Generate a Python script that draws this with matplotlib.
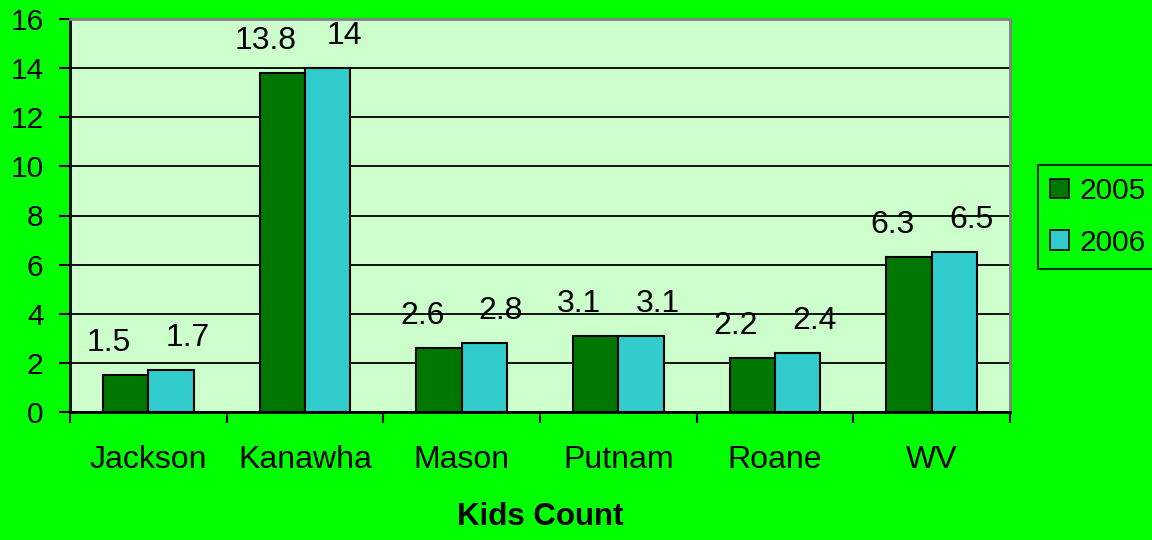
import matplotlib
matplotlib.use("Agg")
import matplotlib.pyplot as plt
import numpy as np
from matplotlib.patches import Patch

categories = ["Jackson", "Kanawha", "Mason", "Putnam", "Roane", "WV"]
series_names = ["2005", "2006"]
values_2005 = [1.5, 13.8, 2.6, 3.1, 2.2, 6.3]
values_2006 = [1.7, 14, 2.8, 3.1, 2.4, 6.5]
yticks = [0, 2, 4, 6, 8, 10, 12, 14, 16]
xlabel = "Kids Count"

plt.rcParams['font.family'] = ['Liberation Sans', 'DejaVu Sans']

c2005 = "#007800"
c2006 = "#33CCCC"
FS = 23

fig = plt.figure(figsize=(11.52, 5.4), dpi=100)
fig.patch.set_facecolor("#00FF00")
ax = fig.add_axes([70/1152, 1-412/540, 940/1152, 393/540])
ax.set_facecolor("#CCFFCC")

x = np.arange(len(categories))
w = 0.29
b1 = ax.bar(x - w/2, values_2005, w, color=c2005, edgecolor="black", linewidth=1.5, zorder=3)
b2 = ax.bar(x + w/2, values_2006, w, color=c2006, edgecolor="black", linewidth=1.5, zorder=3)

for bars, vals, dx in ((b1, values_2005, -12), (b2, values_2006, 12)):
    for rect, v in zip(bars, vals):
        ax.annotate(f"{v:g}", (rect.get_x() + rect.get_width()/2, rect.get_height()),
                    xytext=(dx, 23), textcoords="offset points", ha="center", va="center",
                    fontsize=FS, color="black")

ax.set_xlim(-0.5, len(categories) - 0.5)
ax.set_ylim(0, 16)
ax.set_yticks(yticks)
ax.set_yticklabels([str(t) for t in yticks])
ax.yaxis.grid(True, color="black", linewidth=1.3, zorder=1)
ax.set_axisbelow(True)

ax.set_xticks(x)
ax.set_xticklabels(categories)
ax.set_xticks(np.arange(len(categories) + 1) - 0.5, minor=True)
ax.tick_params(axis="x", which="major", length=0, pad=24, labelsize=FS)
ax.tick_params(axis="x", which="minor", length=8, width=1.5, direction="out")
ax.tick_params(axis="y", length=8, width=1.5, direction="out", pad=11, labelsize=21.5)

for s in ("left", "bottom"):
    ax.spines[s].set_color("black")
    ax.spines[s].set_linewidth(2)
for s in ("top", "right"):
    ax.spines[s].set_color("#808080")
    ax.spines[s].set_linewidth(2)

fig.text(540/1152, 1-517/540, xlabel, ha="center", va="center", fontsize=FS-0.5, fontweight="bold")

handles = [Patch(facecolor=c2005, edgecolor="black", linewidth=1.2),
           Patch(facecolor=c2006, edgecolor="black", linewidth=1.2)]
leg = fig.legend(handles, series_names, loc="upper left",
                 bbox_to_anchor=(1038/1152, 1-165/540), fontsize=21.5,
                 frameon=True, fancybox=False, edgecolor="black", facecolor="#00FF00",
                 handlelength=0.64, handleheight=0.64, handletextpad=0.36,
                 borderpad=0.4, labelspacing=0.8, borderaxespad=0)
leg.get_frame().set_linewidth(1.5)

fig.savefig("out.png", dpi=100, facecolor=fig.get_facecolor())
